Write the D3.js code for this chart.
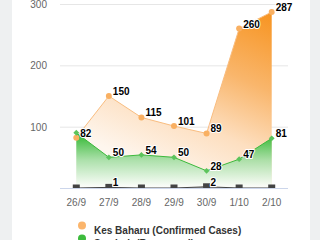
<!DOCTYPE html>
<html>
<head>
<meta charset="utf-8">
<script src="https://cdn.jsdelivr.net/npm/d3@7"></script>
<style>
  body { margin: 0; background: #eef0f1; }
  svg { display: block; font-family: "Liberation Sans", Arial, Helvetica, sans-serif; }
</style>
</head>
<body>
<svg width="320" height="240"></svg>
<script>
// chart data
var days = ["26/9", "27/9", "28/9", "29/9", "30/9", "1/10", "2/10"];
var confirmed = [82, 150, 115, 101, 89, 260, 287];
var recovered = [90, 50, 54, 50, 28, 47, 81];
var deaths = [0, 1, 0, 0, 2, 0, 0];
var yTicks = [100, 200, 300];
var legendNames = ["Kes Baharu (Confirmed Cases)", "Sembuh (Recovered)"];

var svg = d3.select("svg"),
    width = +svg.attr("width"),
    height = +svg.attr("height");

var plot = {left: 60, right: 288, top: 4, bottom: 188};

var x = d3.scalePoint().domain(days).range([plot.left, plot.right]).padding(0.5);
var y = d3.scaleLinear().domain([0, 300]).range([plot.bottom, plot.top]);

// card
svg.append("rect").attr("width", width).attr("height", height).attr("fill", "#eef0f1");
svg.append("rect").attr("x", 12).attr("width", 298).attr("height", height).attr("fill", "#fff");

var defs = svg.append("defs");
var og = defs.append("linearGradient").attr("id", "og")
    .attr("gradientUnits", "userSpaceOnUse")
    .attr("x1", 280).attr("y1", 10).attr("x2", 200).attr("y2", 190);
og.append("stop").attr("offset", 0).attr("stop-color", "#f7911a");
og.append("stop").attr("offset", 0.4).attr("stop-color", "#f9b66c");
og.append("stop").attr("offset", 0.7).attr("stop-color", "#fddfc0");
og.append("stop").attr("offset", 1).attr("stop-color", "#fef6ee");

var gg = defs.append("linearGradient").attr("id", "gg")
    .attr("gradientUnits", "userSpaceOnUse")
    .attr("x1", 0).attr("y1", y(90)).attr("x2", 0).attr("y2", plot.bottom);
gg.append("stop").attr("offset", 0).attr("stop-color", "#2bb52b");
gg.append("stop").attr("offset", 0.5).attr("stop-color", "#a6dfa6").attr("stop-opacity", 0.92);
gg.append("stop").attr("offset", 1).attr("stop-color", "#ffffff").attr("stop-opacity", 0.92);

var dg = defs.append("linearGradient").attr("id", "dg").attr("x1", 0).attr("y1", 0).attr("x2", 0).attr("y2", 1);
dg.append("stop").attr("offset", 0).attr("stop-color", "#555");
dg.append("stop").attr("offset", 1).attr("stop-color", "#ddd");

defs.append("clipPath").attr("id", "clip").append("rect")
    .attr("x", plot.left).attr("y", 0)
    .attr("width", plot.right - plot.left).attr("height", plot.bottom);

// grid + y labels
svg.append("g").selectAll("line").data(yTicks).enter().append("line")
    .attr("x1", plot.left).attr("x2", plot.right)
    .attr("y1", function(d) { return y(d) + 0.5; })
    .attr("y2", function(d) { return y(d) + 0.5; })
    .attr("stroke", "#e6e6e6");

svg.append("g").selectAll("text").data(yTicks).enter().append("text")
    .attr("x", 47).attr("y", function(d) { return y(d) + 4; })
    .attr("text-anchor", "end").attr("font-size", 10).attr("fill", "#666")
    .text(function(d) { return d; });

svg.append("line")
    .attr("x1", plot.left).attr("x2", plot.right)
    .attr("y1", plot.bottom + 0.5).attr("y2", plot.bottom + 0.5)
    .attr("stroke", "#ccd6eb");

svg.append("g").selectAll("text").data(days).enter().append("text")
    .attr("x", function(d) { return x(d); }).attr("y", 205.5)
    .attr("text-anchor", "middle").attr("font-size", 10).attr("fill", "#666")
    .text(function(d) { return d; });

// series
var series = [
  {values: confirmed, fill: "url(#og)", line: "#f9bd80", marker: "circle", mcolor: "#f9b062"},
  {values: recovered, fill: "url(#gg)", line: "#3db93d", marker: "diamond", mcolor: "#5cc45c"},
  {values: deaths, fill: "url(#dg)", line: "#444", marker: "square", mcolor: "#444"}
];

var area = d3.area()
    .x(function(d, i) { return x(days[i]); })
    .y0(plot.bottom)
    .y1(function(d) { return y(d); });
var line = d3.line()
    .x(function(d, i) { return x(days[i]); })
    .y(function(d) { return y(d); });

var chart = svg.append("g").attr("clip-path", "url(#clip)");

series.forEach(function(s) {
  chart.append("path").datum(s.values).attr("d", area).attr("fill", s.fill);
  chart.append("path").datum(s.values).attr("d", line)
      .attr("fill", "none").attr("stroke", s.line).attr("stroke-width", 1);
});

series.forEach(function(s) {
  var g = chart.append("g");
  s.values.forEach(function(v, i) {
    var px = x(days[i]), py = y(v);
    if (s.marker == "circle") {
      g.append("circle").attr("cx", px).attr("cy", py).attr("r", 3).attr("fill", s.mcolor);
    } else if (s.marker == "diamond") {
      g.append("path").attr("d", d3.symbol(d3.symbolDiamond2, 22)()).attr("transform", "translate(" + px + "," + py + ")")
          .attr("fill", s.mcolor);
    } else {
      g.append("rect").attr("x", px - 3.5).attr("y", py - 3.5).attr("width", 7).attr("height", 7).attr("fill", s.mcolor);
    }
  });
});

// data labels, hide ones that collide
var placed = [];
var lg = svg.append("g").attr("font-size", 10).attr("font-weight", "bold");
series.forEach(function(s) {
  s.values.forEach(function(v, i) {
    if (v === 0) return;
    var px = x(days[i]) + 4, py = y(v) - 1;
    var w = String(v).length * 5.6, box = {x0: px, x1: px + w, y0: py - 7.5, y1: py};
    var hit = placed.some(function(b) {
      return box.x0 < b.x1 && box.x1 > b.x0 && box.y0 < b.y1 && box.y1 > b.y0;
    });
    if (hit) return;
    placed.push(box);
    lg.append("text").attr("x", px).attr("y", py)
        .attr("fill", "#000").attr("stroke", "#fff").attr("stroke-width", 2)
        .attr("stroke-linejoin", "round").attr("paint-order", "stroke")
        .text(v);
  });
});

// legend
var legColors = ["#fbb56c", "#3dbb3d"];
legendNames.forEach(function(n, i) {
  svg.append("circle").attr("cx", 82).attr("cy", 225.5 + i * 13).attr("r", 4).attr("fill", legColors[i]);
  svg.append("text").attr("x", 94).attr("y", 233.5 + i * 13)
      .attr("font-size", 10).attr("font-weight", "bold").attr("fill", "#333")
      .text(n);
});
</script>
</body>
</html>
